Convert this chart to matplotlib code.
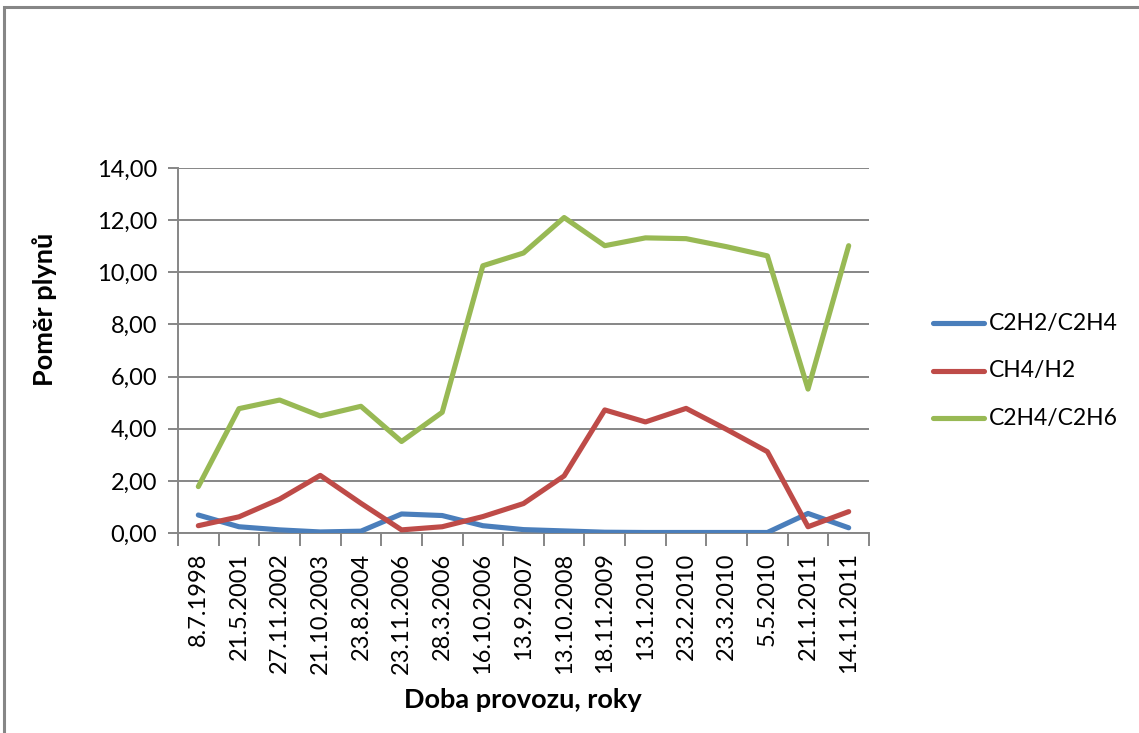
import matplotlib
matplotlib.use("Agg")
import matplotlib.pyplot as plt
from matplotlib.patches import Rectangle
from matplotlib.lines import Line2D

plt.rcParams['font.family'] = ['Lato', 'DejaVu Sans']

dates = ["8.7.1998", "21.5.2001", "27.11.2002", "21.10.2003", "23.8.2004",
         "23.11.2006", "28.3.2006", "16.10.2006", "13.9.2007", "13.10.2008",
         "18.11.2009", "13.1.2010", "23.2.2010", "23.3.2010", "5.5.2010",
         "21.1.2011", "14.11.2011"]

c2h2_c2h4 = [0.69, 0.24, 0.12, 0.04, 0.07, 0.73, 0.67, 0.28, 0.13, 0.08,
             0.03, 0.02, 0.02, 0.02, 0.02, 0.75, 0.20]
ch4_h2 = [0.28, 0.62, 1.30, 2.21, 1.14, 0.12, 0.24, 0.63, 1.13, 2.19,
          4.72, 4.26, 4.78, 3.97, 3.12, 0.24, 0.82]
c2h4_c2h6 = [1.78, 4.77, 5.10, 4.49, 4.86, 3.51, 4.63, 10.25, 10.74, 12.10,
             11.02, 11.32, 11.29, 10.98, 10.63, 5.52, 11.02]

series = [("C2H2/C2H4", c2h2_c2h4, "#4A7EBB"),
          ("CH4/H2", ch4_h2, "#BE4B48"),
          ("C2H4/C2H6", c2h4_c2h6, "#98B954")]

W, H = 1139, 733
fig = plt.figure(figsize=(W / 100, H / 100), dpi=100)
ax = fig.add_axes([178 / W, 1 - 533 / H, (869 - 178) / W, (533 - 168) / H])

grid_c = "#868686"
lw_series = 3.7
x = list(range(len(dates)))
for name, vals, col in series:
    ax.plot(x, vals, color=col, lw=lw_series, solid_joinstyle="round",
            solid_capstyle="round", zorder=3)

ax.set_xlim(-0.5, len(dates) - 0.5)
ax.set_ylim(0, 14)
ax.set_yticks(range(0, 15, 2))
ax.set_yticklabels([f"{v},00" for v in range(0, 15, 2)])
ax.yaxis.grid(True, color=grid_c, lw=1.4)
ax.set_axisbelow(True)

ax.set_xticks([i - 0.5 for i in range(len(dates) + 1)])
ax.set_xticklabels([])
ax.set_xticks(x, minor=True)
ax.set_xticklabels(dates, minor=True, rotation=90)
ax.tick_params(axis="x", which="major", length=9, width=1.4, color=grid_c)
ax.tick_params(axis="x", which="minor", length=0, pad=14, labelsize=17)
ax.tick_params(axis="y", length=7, width=1.4, color=grid_c, labelsize=17,
               pad=8)

for s in ("top", "right"):
    ax.spines[s].set_visible(False)
for s in ("left", "bottom"):
    ax.spines[s].set_color(grid_c)
    ax.spines[s].set_linewidth(1.4)

fig.text(45 / W, 1 - 309 / H, "Poměr plynů", rotation=90, ha="center",
         va="center", fontsize=19.5, fontweight="bold")
fig.text(523 / W, 1 - 700 / H, "Doba provozu, roky", ha="center",
         va="center", fontsize=19.5, fontweight="bold")

# legend drawn in figure coordinates
for i, (name, vals, col) in enumerate(series):
    yy = 1 - (323 + i * 47.5) / H
    fig.add_artist(Line2D([933 / W, 984 / W], [yy, yy], color=col,
                          lw=lw_series, solid_capstyle="round"))
    fig.text(989 / W, yy, name, ha="left", va="center", fontsize=16.5)

fig.add_artist(Rectangle((4 / W, -0.1), 1.2, 1 - 7 / H + 0.1,
                         transform=fig.transFigure, fill=False,
                         edgecolor="#868686", lw=2.2))

fig.savefig("out.png", dpi=100)
